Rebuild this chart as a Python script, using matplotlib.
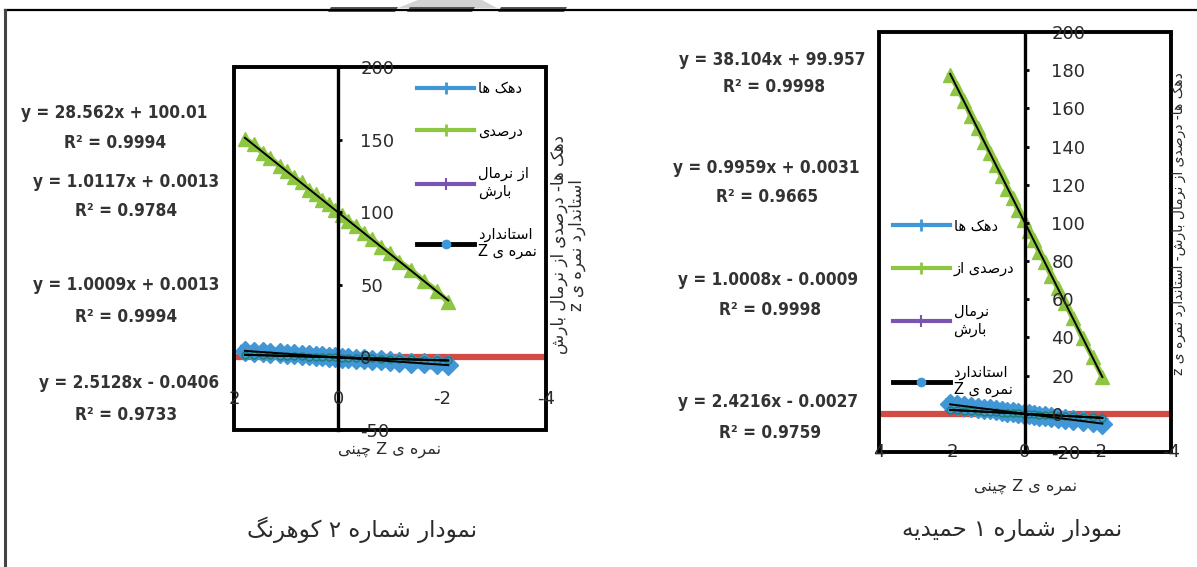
import numpy as np
import matplotlib
matplotlib.use("Agg")
import matplotlib.pyplot as plt
from matplotlib import font_manager
from matplotlib.font_manager import FontProperties
from matplotlib.lines import Line2D
from matplotlib.patches import Rectangle, Polygon

# ---------------- data: chart 2 (Koohrang) ----------------
koh_z = [1.79, 1.62, 1.45, 1.30, 1.12, 0.98, 0.85, 0.70, 0.55, 0.42, 0.30, 0.18,
         0.05, -0.08, -0.20, -0.35, -0.50, -0.66, -0.82, -1.00, -1.18, -1.40,
         -1.65, -1.90, -2.12]
koh_percent = [150.5, 146.8, 141.0, 137.6, 131.6, 128.4, 124.0, 120.5, 115.3, 112.4,
               108.3, 105.4, 101.2, 97.9, 94.0, 90.4, 85.4, 81.5, 76.3, 71.8,
               66.0, 60.4, 52.6, 46.0, 38.0]
koh_decile = [4.6, 4.0, 3.7, 3.2, 2.9, 2.4, 2.2, 1.7, 1.5, 1.0, 0.8, 0.4, 0.2, -0.3,
              -0.4, -1.0, -1.2, -1.7, -2.0, -2.6, -2.9, -3.6, -4.1, -4.8, -5.4]
koh_normal = [1.80, 1.66, 1.44, 1.33, 1.11, 1.01, 0.84, 0.73, 0.54, 0.44, 0.29, 0.20,
              0.04, -0.06, -0.21, -0.34, -0.52, -0.65, -0.85, -0.99, -1.21, -1.39,
              -1.69, -1.91, -2.15]
koh_zscore = [1.79, 1.63, 1.44, 1.31, 1.12, 0.99, 0.84, 0.71, 0.55, 0.42, 0.31, 0.17,
              0.05, -0.08, -0.21, -0.35, -0.49, -0.66, -0.83, -1.00, -1.18, -1.41,
              -1.64, -1.90, -2.12]
koh_xticks = [2, 0, -2, -4]
koh_yticks = [-50, 0, 50, 100, 150, 200]
koh_eq = ["y = 28.562x + 100.01", "y = 1.0117x + 0.0013",
          "y = 1.0009x + 0.0013", "y = 2.5128x - 0.0406"]
koh_r2 = ["R² = 0.9994", "R² = 0.9784", "R² = 0.9994", "R² = 0.9733"]

# ---------------- data: chart 1 (Hamidiyeh) ----------------
ham_z = [2.05, 1.85, 1.66, 1.48, 1.30, 1.12, 0.95, 0.80, 0.64, 0.48, 0.33, 0.18,
         0.04, -0.10, -0.24, -0.39, -0.55, -0.72, -0.90, -1.10, -1.32, -1.58,
         -1.85, -2.12]
ham_percent = [177.6, 170.9, 163.6, 156.0, 149.9, 142.3, 136.6, 130.1, 124.7, 117.9,
               112.8, 106.5, 101.7, 95.9, 91.1, 84.8, 79.3, 72.3, 65.9, 57.8,
               50.0, 39.6, 29.8, 19.4]
ham_decile = [5.0, 4.5, 4.0, 3.6, 3.1, 2.7, 2.3, 1.9, 1.5, 1.2, 0.8, 0.4, 0.1, -0.2,
              -0.6, -0.9, -1.3, -1.7, -2.2, -2.7, -3.2, -3.8, -4.5, -5.1]
ham_normal = [2.01, 1.88, 1.62, 1.50, 1.27, 1.14, 0.92, 0.81, 0.62, 0.50, 0.31, 0.19,
              0.02, -0.11, -0.22, -0.41, -0.53, -0.74, -0.88, -1.12, -1.30, -1.60,
              -1.82, -2.14]
ham_zscore = [2.05, 1.85, 1.66, 1.48, 1.30, 1.12, 0.95, 0.80, 0.64, 0.48, 0.33, 0.18,
              0.04, -0.10, -0.24, -0.39, -0.55, -0.72, -0.90, -1.10, -1.32, -1.58,
              -1.85, -2.12]
ham_xticks = [4, 2, 0, -2, -4]
ham_yticks = [-20, 0, 20, 40, 60, 80, 100, 120, 140, 160, 180, 200]
ham_eq = ["y = 38.104x + 99.957", "y = 0.9959x + 0.0031",
          "y = 1.0008x - 0.0009", "y = 2.4216x - 0.0027"]
ham_r2 = ["R² = 0.9998", "R² = 0.9665", "R² = 0.9998", "R² = 0.9759"]

# ---------------- texts ----------------
leg_koh = ["دهک ها", "درصدی", "از نرمال\nبارش", "استاندارد\nنمره ی Z"]
leg_ham = ["دهک ها", "درصدی از", "نرمال\nبارش", "استاندارد\nنمره ی Z"]
ylab_koh = "دهک ها- درصدی از نرمال بارش\nاستاندارد نمره ی z"
ylab_ham = "دهک ها- درصدی از نرمال بارش- استاندارد نمره ی z"
xlab_txt = "نمره ی Z چینی"
title_koh = "نمودار شماره ۲ کوهرنگ"
title_ham = "نمودار شماره ۱ حمیدیه"

# ---------------- minimal Persian shaping ----------------
FORMS = {
    'ا': ('\uFE8D', '\uFE8E', None, None),
    'ب': ('\uFE8F', '\uFE90', '\uFE91', '\uFE92'),
    'ت': ('\uFE95', '\uFE96', '\uFE97', '\uFE98'),
    'ح': ('\uFEA1', '\uFEA2', '\uFEA3', '\uFEA4'),
    'د': ('\uFEA9', '\uFEAA', None, None),
    'ر': ('\uFEAD', '\uFEAE', None, None),
    'ز': ('\uFEAF', '\uFEB0', None, None),
    'س': ('\uFEB1', '\uFEB2', '\uFEB3', '\uFEB4'),
    'ش': ('\uFEB5', '\uFEB6', '\uFEB7', '\uFEB8'),
    'ص': ('\uFEB9', '\uFEBA', '\uFEBB', '\uFEBC'),
    'ل': ('\uFEDD', '\uFEDE', '\uFEDF', '\uFEE0'),
    'م': ('\uFEE1', '\uFEE2', '\uFEE3', '\uFEE4'),
    'ن': ('\uFEE5', '\uFEE6', '\uFEE7', '\uFEE8'),
    'ه': ('\uFEE9', '\uFEEA', '\uFEEB', '\uFEEC'),
    'و': ('\uFEED', '\uFEEE', None, None),
    'ی': ('\uFBFC', '\uFBFD', '\uFBFE', '\uFBFF'),
    'ک': ('\uFB8E', '\uFB8F', '\uFB90', '\uFB91'),
    'گ': ('\uFB92', '\uFB93', '\uFB94', '\uFB95'),
    'چ': ('\uFB7A', '\uFB7B', '\uFB7C', '\uFB7D'),
}


def _shape_line(s):
    def dual(c):
        return c in FORMS and FORMS[c][2] is not None
    out = []
    for i, c in enumerate(s):
        if c not in FORMS:
            out.append(c)
            continue
        p = s[i - 1] if i > 0 else ''
        n = s[i + 1] if i + 1 < len(s) else ''
        before = dual(p)
        after = dual(c) and (n in FORMS)
        f = FORMS[c]
        if before and after:
            out.append(f[3])
        elif before:
            out.append(f[1])
        elif after:
            out.append(f[2])
        else:
            out.append(f[0])
    return ''.join(reversed(out))


def fa(s):
    return '\n'.join(_shape_line(l) for l in s.split('\n'))


# ---------------- fonts ----------------
plt.rcParams['font.family'] = ['DejaVu Sans']
names = {f.name for f in font_manager.fontManager.ttflist}
if 'Liberation Sans Narrow' in names:
    EQ_FP = FontProperties(family='Liberation Sans Narrow', weight='bold', size=16)
else:
    cf = font_manager.findfont(FontProperties(family='DejaVu Sans', weight='bold',
                                              stretch='condensed'))
    if 'Condensed' in cf:
        EQ_FP = FontProperties(fname=cf, size=12.3)
    else:
        EQ_FP = FontProperties(family='DejaVu Sans', weight='bold', size=11.2)

W, H = 1197, 567
fig = plt.figure(figsize=(W / 100, H / 100), dpi=100)
fig.patch.set_facecolor('white')


def fx(x):
    return x / W


def fy(y):
    return 1 - y / H


C_BLUE = '#4196D6'
C_GREEN = '#8DC641'
C_PURPLE = '#7A55B0'
C_RED = '#D0413A'
C_TXT = '#2b2b2b'


def make_chart(rect, x, pct, dec, nor, zs, xlim, ylim, xticks, yticks,
               ylab_pad, xlab_pad, legend_labels, legend_anchor):
    ax = fig.add_axes(rect)
    ax.set_xlim(*xlim)
    ax.set_ylim(*ylim)
    for s in ['left', 'top', 'bottom']:
        ax.spines[s].set_visible(False)
    ax.spines['right'].set_position(('data', 0))
    ax.spines['right'].set_linewidth(2.4)
    ax.spines['right'].set_color('black')
    ax.spines['right'].set_zorder(5)
    ax.yaxis.tick_right()
    ax.set_yticks(yticks)
    ax.set_yticklabels([str(v) for v in yticks])
    ax.tick_params(axis='y', direction='out', length=3, width=2,
                   pad=ylab_pad, labelsize=13, labelcolor=C_TXT)
    ax.set_xticks(xticks)
    ax.set_xticklabels([str(v) for v in xticks])
    ax.tick_params(axis='x', direction='in', length=0, pad=xlab_pad,
                   labelsize=13, labelcolor=C_TXT)
    ax.yaxis.set_zorder(7)
    ax.xaxis.set_zorder(7)
    ax.add_patch(Rectangle((0, 0), 1, 1, transform=ax.transAxes, fill=False,
                           lw=2.8, ec='black', clip_on=False, zorder=6))
    ax.axhline(0, color=C_RED, lw=4.5, zorder=1.5, alpha=0.95)

    ax.plot(x, pct, color=C_GREEN, lw=4, marker='^', ms=10, mec=C_GREEN, zorder=3)
    ax.plot(x, nor, color=C_PURPLE, lw=3, marker='+', ms=8, zorder=3)
    ax.plot(x, dec, color=C_BLUE, lw=8, marker='D', ms=10, mec=C_BLUE, zorder=3.5)
    ax.plot(x, zs, color='#1b7f72', lw=2, marker='o', ms=5, mfc=C_BLUE,
            mec='#1b7f72', zorder=3.6)
    xa = np.array(x)
    for ser in (pct, dec, nor, zs):
        k, b = np.polyfit(xa, np.array(ser), 1)
        xs = np.array([xa.max(), xa.min()])
        ax.plot(xs, k * xs + b, color='black', lw=1.4, zorder=4)

    handles = [
        Line2D([], [], color=C_BLUE, lw=3, marker='+', ms=9, mew=2),
        Line2D([], [], color=C_GREEN, lw=3, marker='+', ms=9, mew=2),
        Line2D([], [], color=C_PURPLE, lw=3, marker='+', ms=9, mew=1.5),
        Line2D([], [], color='black', lw=3.5, marker='o', ms=6, mfc=C_BLUE,
               mec=C_BLUE),
    ]
    ax.legend(handles, [fa(l) for l in legend_labels], loc='upper left',
              bbox_to_anchor=legend_anchor, frameon=False, handlelength=3.9,
              handletextpad=0.25, labelspacing=1.9, fontsize=10.5,
              borderaxespad=0, borderpad=0)
    return ax


ax_k = make_chart([fx(234), fy(430), fx(546) - fx(234), fy(67) - fy(430)],
                  koh_z, koh_percent, koh_decile, koh_normal, koh_zscore,
                  (2, -4), (-50, 200), koh_xticks, koh_yticks,
                  13, -29, leg_koh, (0.587, 0.962))
ax_h = make_chart([fx(879), fy(452), fx(1171) - fx(879), fy(32) - fy(452)],
                  ham_z, ham_percent, ham_decile, ham_normal, ham_zscore,
                  (4, -4), (-20, 200), ham_xticks, ham_yticks,
                  16, -6.5, leg_ham, (0.048, 0.556))

# trendline equations
koh_eq_xy = [(114, 113), (126, 182), (126, 285), (129, 383)]
koh_r2_xy = [(115, 143), (126, 211), (126, 317), (126, 415)]
ham_eq_xy = [(772, 60), (766, 168), (768, 280), (768, 402)]
ham_r2_xy = [(774, 87), (767, 197), (770, 310), (770, 433)]
for eqs, r2s, exy, rxy in ((koh_eq, koh_r2, koh_eq_xy, koh_r2_xy),
                           (ham_eq, ham_r2, ham_eq_xy, ham_r2_xy)):
    for t, (px, py) in zip(eqs, exy):
        fig.text(fx(px), fy(py), t, fontproperties=EQ_FP, color='#333333',
                 ha='center', va='center')
    for t, (px, py) in zip(r2s, rxy):
        fig.text(fx(px), fy(py), t, fontproperties=EQ_FP, color='#333333',
                 ha='center', va='center')

# axis titles (Persian)
fig.text(fx(568), fy(245), fa(ylab_koh), rotation=90, ha='center', va='center',
         fontsize=12, color=C_TXT, multialignment='center', linespacing=1.0)
fig.text(fx(1179), fy(224), fa(ylab_ham), rotation=90, ha='center', va='center',
         fontsize=10, color=C_TXT)
fig.text(fx(390), fy(450), fa(xlab_txt), ha='center', va='center',
         fontsize=11.5, color=C_TXT)
fig.text(fx(1026), fy(487), fa(xlab_txt), ha='center', va='center',
         fontsize=11.5, color=C_TXT)
fig.text(fx(362), fy(530), fa(title_koh), ha='center', va='center',
         fontsize=16.5, color=C_TXT)
fig.text(fx(1012), fy(530), fa(title_ham), ha='center', va='center',
         fontsize=16.5, color=C_TXT)

# page frame + watermark decoration
fig.add_artist(Line2D([fx(5), fx(1197)], [fy(10), fy(10)], color='black', lw=1.6,
                      transform=fig.transFigure))
fig.add_artist(Line2D([fx(5), fx(5)], [fy(10), fy(567)], color='#444444', lw=2.2,
                      transform=fig.transFigure))
fig.add_artist(Polygon([(fx(398), fy(8)), (fx(418), fy(0)), (fx(482), fy(0)),
                        (fx(497), fy(8))], closed=True, fc='#d2d2d2', ec='none',
                       transform=fig.transFigure))
for x0, x1 in ((328, 398), (407, 475), (498, 567)):
    fig.add_artist(Polygon([(fx(x0), fy(12)), (fx(x0 + 3), fy(7)), (fx(x1), fy(7)),
                            (fx(x1 - 3), fy(12))], closed=True, fc='#555555',
                           ec='none', transform=fig.transFigure))

fig.savefig('out.png', dpi=100)
